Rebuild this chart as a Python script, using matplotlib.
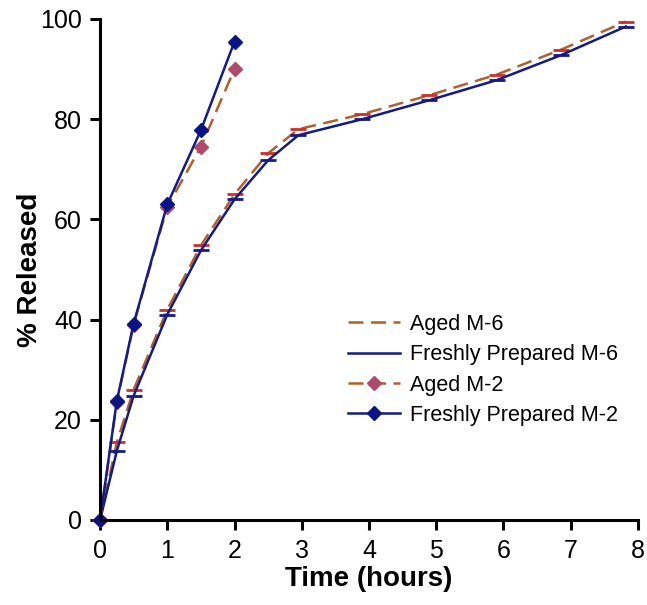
import matplotlib
matplotlib.use("Agg")
import matplotlib.pyplot as plt

plt.rcParams["font.family"] = ["Liberation Sans", "DejaVu Sans"]

# release profiles, M-6 formulation
t_m6 = [0, 0.25, 0.5, 1, 1.5, 2, 2.5, 2.95, 3.9, 4.9, 5.9, 6.86, 7.82]
fresh_m6 = [0, 13.8, 24.8, 41.0, 53.8, 64.0, 71.8, 76.8, 80.0, 83.8, 87.8, 92.8, 98.5]
aged_m6 = [0, 15.5, 26.0, 42.0, 54.8, 65.0, 73.2, 78.0, 81.0, 84.8, 88.9, 93.9, 99.5]

# release profiles, M-2 formulation
t_m2 = [0, 0.25, 0.5, 1, 1.5, 2]
fresh_m2 = [0, 23.8, 39.2, 63.0, 77.8, 95.5]
aged_m2 = [0, 23.5, 39.0, 62.5, 74.5, 90.0]

navy = "#141a86"
brown = "#b0602a"

fig = plt.figure(figsize=(6.47, 6.05), dpi=100)
ax = fig.add_axes([0.1546, 0.1405, 0.8314, 0.8281])

ax.plot(t_m6, aged_m6, color=brown, lw=1.8, linestyle=(0, (6, 3)), label="Aged M-6")
ax.plot(t_m6, aged_m6, linestyle="none", marker="_", ms=12, mew=2, color="#c8302a",
        clip_on=False)
ax.plot(t_m6, fresh_m6, color=navy, lw=1.8, label="Freshly Prepared M-6")
ax.plot(t_m6, fresh_m6, linestyle="none", marker="_", ms=12, mew=2, color=navy,
        clip_on=False)

ax.plot(t_m2, aged_m2, color=brown, lw=1.8, linestyle=(0, (6, 3)), marker="D", ms=7,
        mfc="#b04a6a", mec="#b04a6a", label="Aged M-2", clip_on=False)
ax.plot(t_m2, fresh_m2, color=navy, lw=1.8, marker="D", ms=7, mfc="#0a1482",
        mec="#0a1482", label="Freshly Prepared M-2", clip_on=False)

ax.set_xlim(0, 8)
ax.set_ylim(0, 100)
ax.set_xticks(range(0, 9))
ax.set_yticks(range(0, 101, 20))

for side in ["top", "right"]:
    ax.spines[side].set_visible(False)
for side in ["left", "bottom"]:
    ax.spines[side].set_linewidth(2.2)
ax.tick_params(direction="out", length=7, width=2.2, labelsize=18)
ax.tick_params(axis="x", pad=6.5)
ax.tick_params(axis="y", pad=6)

ax.set_xlabel("Time (hours)", fontsize=20, fontweight="bold", labelpad=2)
ax.set_ylabel("% Released", fontsize=20, fontweight="bold", labelpad=-2)

ax.legend(loc="upper left", bbox_to_anchor=(0.461, 0.412), frameon=False,
          fontsize=15.5, handlelength=2.4, handletextpad=0.5, labelspacing=0.44,
          borderpad=0, borderaxespad=0)

fig.savefig("out.png", dpi=100)
